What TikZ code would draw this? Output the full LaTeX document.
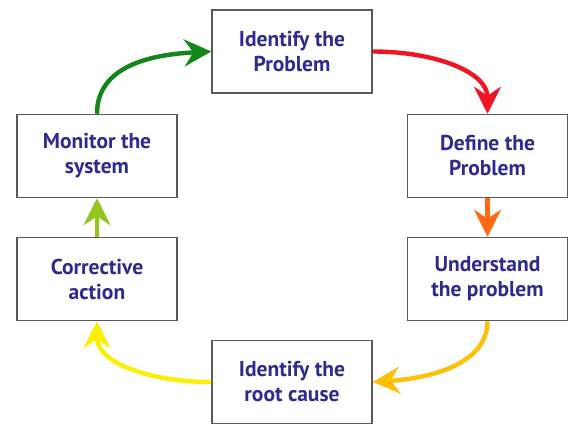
\documentclass[tikz,border=0pt]{standalone}
\usepackage{fontspec}
\setmainfont{PT Sans}
\usetikzlibrary{arrows.meta}
\definecolor{txtblue}{HTML}{2E2A8E}
\definecolor{cgreen}{HTML}{12861A}
\definecolor{cred}{HTML}{F01424}
\definecolor{corange}{HTML}{FF6A12}
\definecolor{cgold}{HTML}{FFC008}
\definecolor{cyellow}{HTML}{FAF000}
\definecolor{cyg}{HTML}{92C61E}
\definecolor{frame}{HTML}{5A5A5A}
\tikzset{
  stagebox/.style={draw=frame, line width=1.5pt, fill=white, minimum width=160pt, minimum height=83pt,
    align=center, text=txtblue, font=\fontsize{21.5}{25}\selectfont\bfseries, inner sep=0pt},
  flow/.style={line width=4.4pt, -{Stealth[length=27pt,width=27pt,inset=9pt]}},
}
\begin{document}
\begin{tikzpicture}[x=1pt,y=-1pt]
\useasboundingbox[fill=white] (0,0) rectangle (572,428);
\node[stagebox] (top) at (292,51.5) {Identify the\\Problem};
\node[stagebox] (mon) at (97,156) {Monitor the\\system};
\node[stagebox] (def) at (487.5,156) {Define the\\Problem};
\node[stagebox] (cor) at (97,279) {Corrective\\action};
\node[stagebox] (und) at (487.5,279) {Understand\\the problem};
\node[stagebox] (bot) at (292,382) {Identify the\\root cause};
\draw[flow, cgreen] (mon.north) .. controls +(0,-48) and +(-60,3) .. (top.west);
\draw[flow, cred] (top.east) .. controls +(62,0) and +(0,-42) .. (def.north);
\draw[flow, corange] (def.south) -- (und.north);
\draw[flow, cgold] (und.south) .. controls +(0,42) and +(60,-4) .. (bot.east);
\draw[flow, cyellow] (bot.west) .. controls +(-60,0) and +(0,42) .. (cor.south);
\draw[flow, cyg] (cor.north) -- (mon.south);
\end{tikzpicture}
\end{document}
